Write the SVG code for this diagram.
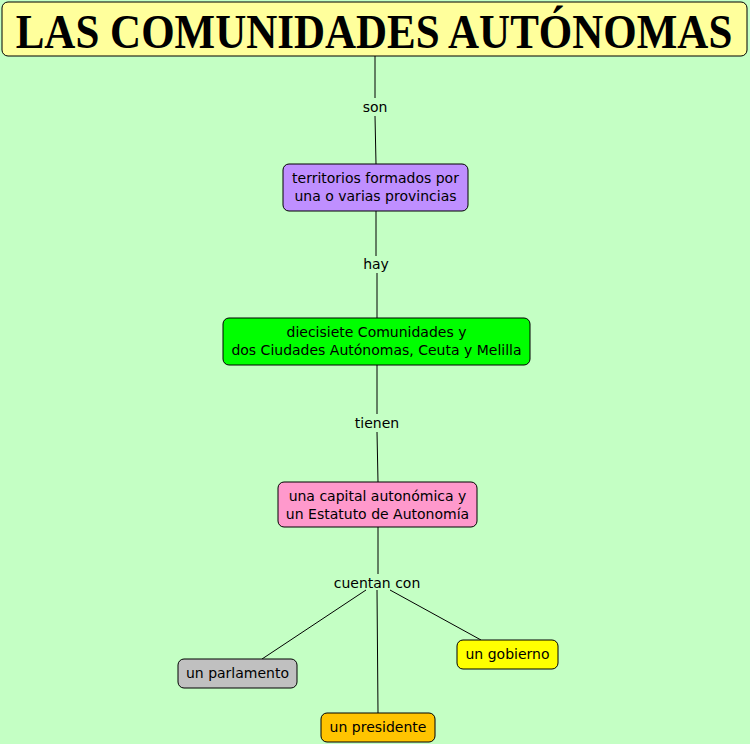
<svg xmlns="http://www.w3.org/2000/svg" width="750" height="744" viewBox="0 0 750 744">
<style>
.n{stroke:#000;stroke-width:1}
.t{font-family:"DejaVu Sans",Verdana,sans-serif;font-size:14px;fill:#000;text-anchor:middle}
.c line{stroke:#000;stroke-width:1}
</style>
<rect width="750" height="744" fill="#c4ffc4"/>
<g id="title">
<rect class="n" x="2" y="2" width="745" height="54" rx="6" fill="#ffff9c"/>
<text transform="translate(374,48) scale(1,1.15)" x="0" y="0" font-family="Liberation Serif,serif" font-weight="bold" font-size="43" text-anchor="middle">LAS COMUNIDADES AUTÓNOMAS</text>
</g>
<g class="c" id="connectors">
<line x1="375" y1="56" x2="375" y2="98"/>
<line x1="375" y1="116" x2="376" y2="164"/>
<line x1="376" y1="211" x2="376" y2="256"/>
<line x1="377" y1="273" x2="377" y2="318"/>
<line x1="377" y1="365" x2="377" y2="414"/>
<line x1="377" y1="432" x2="378" y2="482"/>
<line x1="378" y1="527" x2="378" y2="574"/>
<line x1="366" y1="590" x2="262" y2="659"/>
<line x1="377" y1="590" x2="378" y2="713"/>
<line x1="390" y1="590" x2="481" y2="640"/>
<text class="t" x="375" y="112">son</text>
<text class="t" x="376" y="269">hay</text>
<text class="t" x="377" y="428">tienen</text>
<text class="t" x="377" y="588">cuentan con</text>
</g>
<g id="territorios">
<rect class="n" x="283" y="164" width="185" height="47" rx="6" fill="#bf8fff"/>
<text class="t" x="375.5" y="183">territorios formados por</text>
<text class="t" x="375.5" y="201">una o varias provincias</text>
</g>
<g id="diecisiete">
<rect class="n" x="223" y="318" width="307" height="47" rx="6" fill="#00ff00"/>
<text class="t" x="376.5" y="337">diecisiete Comunidades y</text>
<text class="t" x="376.5" y="355">dos Ciudades Autónomas, Ceuta y Melilla</text>
</g>
<g id="capital">
<rect class="n" x="278" y="482" width="199" height="45" rx="6" fill="#ff99cc"/>
<text class="t" x="377.5" y="501">una capital autonómica y</text>
<text class="t" x="377.5" y="519">un Estatuto de Autonomía</text>
</g>
<g id="parlamento">
<rect class="n" x="178" y="659" width="119" height="29" rx="6" fill="#c0c0c0"/>
<text class="t" x="237.5" y="678">un parlamento</text>
</g>
<g id="presidente">
<rect class="n" x="321" y="713" width="114" height="29" rx="6" fill="#ffc400"/>
<text class="t" x="378" y="732">un presidente</text>
</g>
<g id="gobierno">
<rect class="n" x="457" y="640" width="101" height="29" rx="6" fill="#ffff00"/>
<text class="t" x="507.5" y="659">un gobierno</text>
</g>
</svg>
